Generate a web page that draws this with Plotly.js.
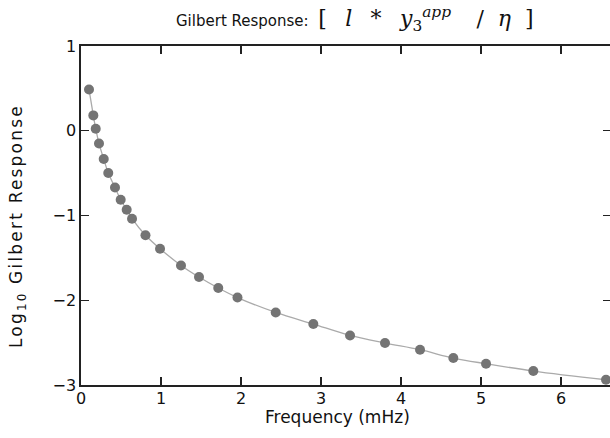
<!DOCTYPE html>
<html>
<head>
<meta charset="utf-8">
<script src="https://cdn.plot.ly/plotly-3.0.1.min.js"></script>
<style>
html, body { margin: 0; padding: 0; overflow: hidden; background: #fff; }
#chart { width: 612px; height: 438px; }
</style>
</head>
<body>
<div id="chart"></div>
<script>
// Frequency (mHz)
const frequency = [0.100, 0.154, 0.184, 0.225, 0.284, 0.341, 0.425, 0.496, 0.571, 0.638,
  0.806, 0.988, 1.250, 1.475, 1.716, 1.956, 2.434, 2.904, 3.363, 3.800,
  4.238, 4.654, 5.063, 5.654, 6.5625];
// Log10 Gilbert response
const logResponse = [0.487, 0.181, 0.024, -0.150, -0.334, -0.499, -0.669, -0.814, -0.932, -1.038,
  -1.233, -1.392, -1.589, -1.726, -1.856, -1.968, -2.144, -2.281, -2.415, -2.505,
  -2.584, -2.682, -2.749, -2.835, -2.938];
const xTicks = [0, 1, 2, 3, 4, 5, 6];
const yTicks = [-3, -2, -1, 0, 1];
const xTitle = 'Frequency (mHz)';
const yTitle = 'Log<sub>10</sub> Gilbert Response';

const sans = "DejaVu Sans, sans-serif";

const traces = [
  {
    x: frequency, y: logResponse, type: 'scatter', mode: 'lines',
    line: { color: '#aaaaaa', width: 1.3, shape: 'spline', smoothing: 1 },
    hoverinfo: 'skip', showlegend: false
  },
  {
    x: frequency, y: logResponse, type: 'scatter', mode: 'markers',
    marker: { color: '#747474', size: 10, line: { width: 0 } },
    showlegend: false, cliponaxis: false
  }
];

const axisCommon = {
  showgrid: false, zeroline: false,
  showline: true, linecolor: '#222', linewidth: 1.6,
  mirror: 'ticks', ticks: 'inside', ticklen: 8, tickwidth: 1.4, tickcolor: '#222',
  tickfont: { family: sans, size: 16, color: '#111' }
};

const sp = '&nbsp;';
const gap = sp + sp + '&#8201;';
const layout = {
  width: 612, height: 438,
  margin: { l: 81, r: 1, t: 46, b: 53 },
  paper_bgcolor: '#fff', plot_bgcolor: '#fff',
  title: {
    text: "Gilbert Response:" + sp + sp + "<span style='font-family:DejaVu Serif, serif;font-size:22px'>[" + gap + "<i>l</i>" + gap + "*" + gap + "<i>y</i><sub>3</sub><sup><i>app</i></sup>" + gap + sp + "/" + sp + sp + "<i>η</i>" + sp + sp + "]</span>",
    font: { family: sans, size: 15, color: '#111' },
    xref: 'container', yref: 'container',
    x: 176 / 612, xanchor: 'left',
    y: 1 - 21 / 438, yanchor: 'middle'
  },
  xaxis: Object.assign({}, axisCommon, {
    range: [0, 6.625], tickvals: xTicks, ticklabelstandoff: -2
  }),
  yaxis: Object.assign({}, axisCommon, {
    range: [-3, 1], tickvals: yTicks
  }),
  annotations: [
    {
      text: xTitle, xref: 'paper', yref: 'paper',
      x: (337.5 - 81) / 530, y: (385 - 417) / 339,
      xanchor: 'center', yanchor: 'middle', showarrow: false,
      font: { family: sans, size: 17, color: '#111' }
    },
    {
      text: "<span style='letter-spacing:2.2px'>" + yTitle + "</span>", xref: 'paper', yref: 'paper',
      x: (18 - 81) / 530, y: (385 - 226) / 339, textangle: -90,
      xanchor: 'center', yanchor: 'middle', showarrow: false,
      font: { family: sans, size: 17, color: '#111' }
    }
  ]
};

Plotly.newPlot('chart', traces, layout, { staticPlot: true, displayModeBar: false });
</script>
</body>
</html>
